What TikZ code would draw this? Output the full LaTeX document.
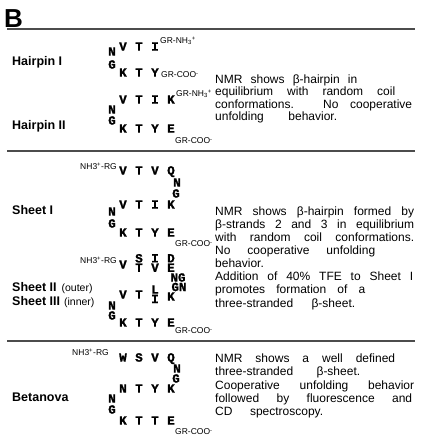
\documentclass[tikz,border=0pt]{standalone}
\usepackage{fontspec}
\setmainfont{Liberation Sans}
\newfontfamily\aafont[BoldFeatures={FakeBold=1.5}]{Liberation Mono}
\newcommand\myres[4]{\node[aa] (#1) at (#2,#3) {#4};}
\begin{document}
\begin{tikzpicture}[x=1pt,y=-1pt,
  aa/.style={font=\aafont\bfseries\fontsize{12.5}{12.5}\selectfont, inner sep=0pt, text height=7.2pt, text depth=0pt},
  term/.style={font=\fontsize{8.5}{9}\selectfont, inner sep=0pt},
  lab/.style={font=\bfseries\fontsize{12.5}{14}\selectfont, anchor=mid west, inner sep=0pt},
  tl/.style={font=\fontsize{12}{14}\selectfont, anchor=mid west, inner sep=0pt},
  rulel/.style={draw=black!70, line width=1.3pt}]
\useasboundingbox (0,0) rectangle (425,440);
\node[font=\bfseries\fontsize{26}{26}\selectfont, inner sep=0pt, anchor=base west] (B) at (4,27) {B};
% rules
\coordinate (r1a) at (7,29); \coordinate (r1b) at (415,29);
\coordinate (r2a) at (7,151); \coordinate (r2b) at (415,151);
\coordinate (r3a) at (7,341); \coordinate (r3b) at (415,341);
\draw[rulel] (r1a) -- (r1b);
\draw[rulel] (r2a) -- (r2b);
\draw[rulel] (r3a) -- (r3b);
% labels
\node[lab] (lh1) at (12,63) {Hairpin I};
\node[lab] (lh2) at (12,127) {Hairpin II};
\node[lab] (ls1) at (12,212) {Sheet I};
\node[lab] (ls2) at (12,289) {Sheet II\hspace{5pt}{\mdseries\fontsize{10.5}{12}\selectfont(outer)}};
\node[lab] (ls3) at (12,303) {Sheet III\hspace{4pt}{\mdseries\fontsize{10.5}{12}\selectfont(inner)}};
\node[lab] (lb) at (12,399) {Betanova};
% Hairpin I
\myres{h1n}{112}{52}{N}
\myres{h1v}{123}{47}{V}
\myres{h1t}{139}{47}{T}
\myres{h1i}{155}{47}{I}
\node[term, anchor=west] (h1top) at (160,41) {GR-NH\textsubscript{3}\textsuperscript{+}};
\myres{h1g}{112}{65}{G}
\myres{h1k}{123}{73}{K}
\myres{h1t2}{139}{73}{T}
\myres{h1y}{155}{73}{Y}
\node[term, anchor=west] (h1bot) at (161,75) {GR-COO\textsuperscript{-}};
% Hairpin II
\myres{h2v}{123}{100}{V}
\myres{h2t}{139}{100}{T}
\myres{h2i}{155}{100}{I}
\myres{h2k}{171}{100}{K}
\node[term, anchor=west] (h2top) at (176,94) {GR-NH\textsubscript{3}\textsuperscript{+}};
\myres{h2n}{112}{110}{N}
\myres{h2g}{112}{121}{G}
\myres{h2k2}{123}{129}{K}
\myres{h2t2}{139}{129}{T}
\myres{h2y}{155}{129}{Y}
\myres{h2e}{171}{129}{E}
\node[term, anchor=west] (h2bot) at (175,141) {GR-COO\textsuperscript{-}};
% Sheet I
\node[term, anchor=east] (s1top) at (117,166) {NH3\textsuperscript{+}-RG};
\myres{s1v}{123}{171}{V}
\myres{s1t}{139}{171}{T}
\myres{s1v2}{155}{171}{V}
\myres{s1q}{171}{171}{Q}
\myres{s1n}{177}{183}{N}
\myres{s1g}{176}{194}{G}
\myres{s1v3}{123}{205}{V}
\myres{s1t2}{139}{205}{T}
\myres{s1i}{155}{205}{I}
\myres{s1k}{171}{205}{K}
\myres{s1n2}{112}{212}{N}
\myres{s1g2}{112}{224}{G}
\myres{s1k2}{123}{233}{K}
\myres{s1t3}{139}{233}{T}
\myres{s1y}{155}{233}{Y}
\myres{s1e}{171}{233}{E}
\node[term, anchor=west] (s1bot) at (175,244) {GR-COO\textsuperscript{-}};
% Sheet II / III
\node[term, anchor=east] (s2top) at (117,260) {NH3\textsuperscript{+}-RG};
\myres{s2v}{123}{265}{V}
\myres{s2s}{139}{258.8}{S}
\myres{s2t}{139}{268.2}{T}
\myres{s2i}{155}{258.8}{I}
\myres{s2v2}{155}{268.2}{V}
\myres{s2d}{171}{258.8}{D}
\myres{s2e}{171}{268.2}{E}
\myres{s2ng}{178}{278}{NG}
\myres{s2gn}{179}{287.5}{GN}
\myres{s2v3}{123}{295}{V}
\myres{s2t2}{139}{295}{T}
\myres{s2l}{155}{290}{L}
\myres{s2i2}{155}{299.4}{I}
\myres{s2k}{171}{297}{K}
\myres{s2n}{112}{306}{N}
\myres{s2g}{112}{316}{G}
\myres{s2k2}{123}{323}{K}
\myres{s2t3}{139}{323}{T}
\myres{s2y}{155}{323}{Y}
\myres{s2e2}{171}{323}{E}
\node[term, anchor=west] (s2bot) at (175,331) {GR-COO\textsuperscript{-}};
% Betanova
\node[term, anchor=east] (btop) at (109,352) {NH3\textsuperscript{+}-RG};
\myres{bw}{123}{358}{W}
\myres{bs}{139}{358}{S}
\myres{bv}{155}{358}{V}
\myres{bq}{171}{358}{Q}
\myres{bn}{177}{369}{N}
\myres{bg}{176}{379}{G}
\myres{bn2}{123}{389}{N}
\myres{bt}{139}{389}{T}
\myres{by}{155}{389}{Y}
\myres{bk}{171}{389}{K}
\myres{bn3}{112}{399}{N}
\myres{bg2}{112}{410}{G}
\myres{bk2}{123}{421}{K}
\myres{bt2}{139}{421}{T}
\myres{bt3}{155}{421}{T}
\myres{be}{171}{421}{E}
\node[term, anchor=west] (bbot) at (175,432) {GR-COO\textsuperscript{-}};
% text block 1
\node[tl] (t1a) at (215,81) {\makebox[142pt][s]{NMR shows β-hairpin in}};
\node[tl] (t1b) at (215,93.3) {\makebox[180pt][s]{equilibrium with random coil}};
\node[tl] (t1c) at (215,105.6) {\makebox[197pt][s]{conformations. No cooperative}};
\node[tl] (t1d) at (215,118) {\makebox[122pt][s]{unfolding behavior.}};
% text block 2
\node[tl] (t2a) at (215,213) {\makebox[199pt][s]{NMR shows β-hairpin formed by}};
\node[tl] (t2b) at (215,226) {\makebox[199pt][s]{β-strands 2 and 3 in equilibrium}};
\node[tl] (t2c) at (215,239) {\makebox[199pt][s]{with random coil conformations.}};
\node[tl] (t2d) at (215,252) {\makebox[160pt][s]{No cooperative unfolding}};
\node[tl] (t2e) at (215,265) {behavior.};
\node[tl] (t2f) at (215,278) {\makebox[198pt][s]{Addition of 40\% TFE to Sheet I}};
\node[tl] (t2g) at (215,291) {\makebox[150pt][s]{promotes formation of a}};
\node[tl] (t2h) at (215,305) {\makebox[140pt][s]{three-stranded β-sheet.}};
% text block 3
\node[tl] (t3a) at (215,360) {\makebox[180pt][s]{NMR shows a well defined}};
\node[tl] (t3b) at (215,373.2) {\makebox[145pt][s]{three-stranded β-sheet.}};
\node[tl] (t3c) at (215,386.4) {\makebox[199pt][s]{Cooperative unfolding behavior}};
\node[tl] (t3d) at (215,399.6) {\makebox[197pt][s]{followed by fluorescence and}};
\node[tl] (t3e) at (215,412.8) {\makebox[108pt][s]{CD spectroscopy.}};
\end{tikzpicture}
\end{document}
